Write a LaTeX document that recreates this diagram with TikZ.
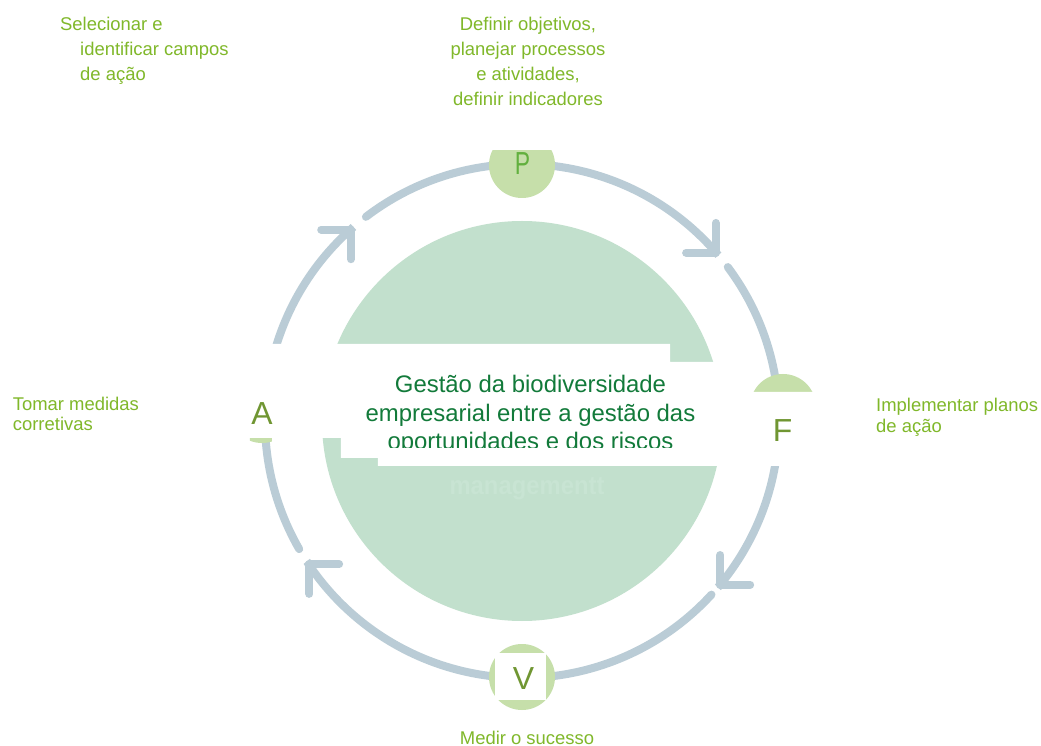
\documentclass[tikz,border=0pt]{standalone}
\usepackage{fontspec}
\setmainfont{Liberation Sans}
\usetikzlibrary{arrows.meta}
\definecolor{ringblue}{RGB}{186,204,214}
\definecolor{hubgreen}{RGB}{194,224,205}
\definecolor{stagegreen}{RGB}{198,223,170}
\definecolor{labelgreen}{RGB}{128,184,42}
\definecolor{titlegreen}{RGB}{18,122,58}
\definecolor{lettergreen}{RGB}{112,150,50}
\definecolor{pgreen}{RGB}{98,176,62}
\definecolor{markgreen}{RGB}{200,228,211}

\begin{document}
\begin{tikzpicture}[x=1bp, y=1bp,
	stage/.style={circle, fill=stagegreen, minimum size=66bp, inner sep=0pt},
	cyclearrow/.style={draw=ringblue, line width=8bp, line cap=round, -{Straight Barb[round, length=21bp, width=42bp]}},
	outer/.style={text=labelgreen, font=\fontsize{18.5}{21}\selectfont, inner sep=0pt},
	toplabel/.style={outer, font=\fontsize{18.5}{25.3}\selectfont},
	letter/.style={text=lettergreen, font=\fontsize{32}{32}\selectfont, inner sep=0pt, anchor=base}]
	\path[use as bounding box, fill=white] (-522,-325) rectangle (519,421);
	\coordinate (hub) at (0,0);
	\fill[hubgreen] (hub) circle[radius=200];
	\node[text=markgreen, font=\bfseries\fontsize{26}{26}\selectfont, xscale=.92] (mark) at (5,-68) {managementt};
	\draw[cyclearrow] (hub) ++(127.4:257) arc[start angle=127.4, end angle=40.2, radius=257] -- ++(-45:0.5);
	\draw[cyclearrow] (hub) ++(36.8:257) arc[start angle=36.8, end angle=-40.3, radius=257] -- ++(-135:0.5);
	\draw[cyclearrow] (hub) ++(-42.5:257) arc[start angle=-42.5, end angle=-146.8, radius=257] -- ++(135:0.5);
	\draw[cyclearrow] (hub) ++(-150.1:257) arc[start angle=-150.1, end angle=-229, radius=257] -- ++(45:0.5);
	\begin{scope}
		\clip (-40,270) rectangle (40,200);
		\node[stage] (P) at (0,256) {};
	\end{scope}
	\node[stage] (F) at (261,14) {};
	\node[stage] (V) at (0,-256) {};
	\begin{scope}
		\clip (-272,-17) rectangle (-250,-30);
		\node[stage] (A) at (-260,11) {};
	\end{scope}
	\fill[white] (-297,77) -- (148,77) -- (148,59) -- (201,59) -- (201,29) -- (308,29) -- (308,-45) -- (-144,-45) -- (-144,-37) -- (-181,-37) -- (-181,-17) -- (-297,-17) -- cycle;
	\fill[white] (-27,-232) rectangle (24,-279);
	\begin{scope}
		\clip (-200,-27) rectangle (220,80);
		\node[text=titlegreen, font=\fontsize{24}{28.3}\selectfont, align=center, inner sep=0pt] (title) at (8.5,6) {Gestão da biodiversidade\\empresarial entre a gestão das\\oportunidades e dos riscos};
	\end{scope}
	\node[letter, text=pgreen, xscale=.72] (Pletter) at (0.5,246) {P};
	\node[letter] (Fletter) at (260.5,-21) {F};
	\node[letter] (Vletter) at (1.5,-268) {V};
	\node[letter] (Aletter) at (-260,-4) {A};
	\node[toplabel, align=left, anchor=north west] (selecttext) at (-462,404.5) {Selecionar e\\\hspace*{20bp}identificar campos\\\hspace*{20bp}de ação};
	\node[toplabel, align=center, anchor=north] (plantext) at (6,404.5) {Definir objetivos,\\planejar processos\\e atividades,\\definir indicadores};
	\node[outer, align=left, anchor=north west] (doingtext) at (354,22.7) {Implementar planos\\de ação};
	\node[outer, align=left, anchor=north west] (acttext) at (-509.3,24.5) {Tomar medidas\\corretivas};
	\node[outer, anchor=base] (checktext) at (5,-323) {Medir o sucesso};
\end{tikzpicture}
\end{document}
